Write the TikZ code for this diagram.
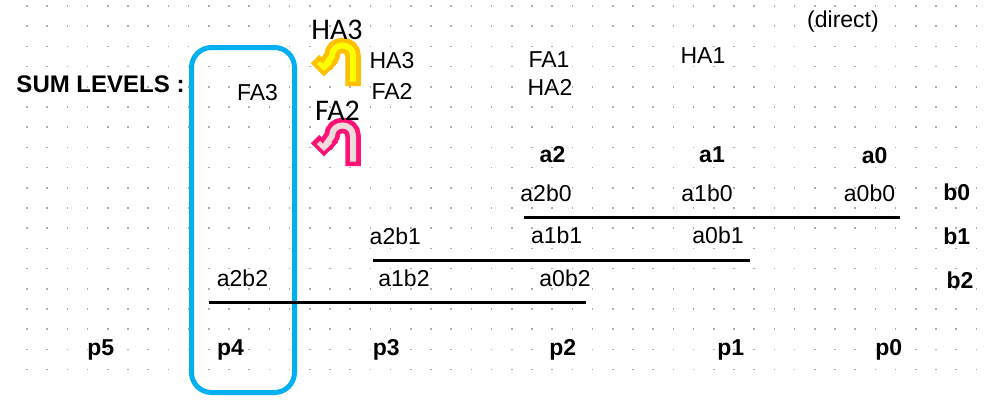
\documentclass[tikz,border=0pt]{standalone}
\usepackage{fontspec}
\setmainfont{Liberation Sans}
\newfontfamily\bigfont{Carlito}
\definecolor{dotc}{HTML}{ADADAD}
\definecolor{boxblue}{HTML}{00B0F0}
\definecolor{yelO}{HTML}{FFC000}
\definecolor{yelI}{HTML}{FFFF00}
\definecolor{pinkO}{HTML}{FF1475}
\definecolor{pinkI}{HTML}{F2DCDB}
\begin{document}
\begin{tikzpicture}[x=1pt,y=-1pt,
  t/.style={font=\fontsize{23}{27}\selectfont, anchor=base, inner sep=0pt},
  tb/.style={font=\fontsize{23}{27}\selectfont\bfseries, anchor=base, inner sep=0pt},
  big/.style={font=\bigfont\fontsize{30}{34}\selectfont, anchor=base, inner sep=0pt},
  rulestyle/.style={line width=2.6pt, black},
  outerarrow/.style={line width=15.5pt, line join=miter},
  innerarrow/.style={line width=6pt, line join=miter},
  outerhead/.style={line width=12pt, line join=miter},
  innerhead/.style={line width=4.5pt, line join=miter}]
\useasboundingbox (0,0) rectangle (984,400);
\fill[white] (0,0) rectangle (984,400);
% dot grid
\foreach \i in {0,...,47}{\foreach \j in {0,...,18}{%
  \fill[dotc] ({27+\i*20.2-0.75},{7.5+\j*20.2-0.75}) rectangle +(1.5,-1.5);}}
% blue box
\node[draw=boxblue, line width=5pt, rounded corners=20pt, minimum width=103pt,
  minimum height=345pt, inner sep=0pt] (box) at (243,220) {};
% U-turn arrows
\foreach \dy/\oc/\ic in {0/yelO/yelI, 80/pinkO/pinkI}{
  \draw[outerarrow, draw=\oc] (353,86+\dy) -- (353,56+\dy)
     .. controls (353,42+\dy) and (332,42+\dy) .. (332,56+\dy) -- (325,66+\dy);
  \draw[outerhead, draw=\oc] (315,59+\dy) -- (324,68+\dy) -- (334,58+\dy);
  \draw[innerarrow, draw=\ic] (353,81.5+\dy) -- (353,56+\dy)
     .. controls (353,42+\dy) and (332,42+\dy) .. (332,56+\dy) -- (325,66+\dy);
  \draw[innerhead, draw=\ic] (318.5,62.5+\dy) -- (324,68+\dy) -- (330.5,61.5+\dy);
}
% texts
\node[tb, font=\fontsize{24}{28}\selectfont\bfseries] (sum) at (100.5,92) {SUM LEVELS :};
\node[t] (fa3) at (257.5,100) {FA3};
\node[big] (ha3big) at (337,39) {HA3};
\node[big] (fa2big) at (337.5,120) {FA2};
\node[t] (ha3) at (392,68.3) {HA3};
\node[t] (fa2) at (392,99) {FA2};
\node[t] (fa1) at (549,67.3) {FA1};
\node[t] (ha2) at (550,95.7) {HA2};
\node[t] (ha1) at (703,63.3) {HA1};
\node[t] (direct) at (843,27) {(direct)};
\node[tb] (a2) at (552.5,162.7) {a2};
\node[tb] (a1) at (712,162.7) {a1};
\node[tb] (a0) at (874.7,163) {a0};
\node[t] (a2b0) at (546,201.7) {a2b0};
\node[t] (a1b0) at (707,201.7) {a1b0};
\node[t] (a0b0) at (869.5,201.7) {a0b0};
\node[tb] (b0) at (956.7,200) {b0};
\node[t] (a2b1) at (395.3,244) {a2b1};
\node[t] (a1b1) at (556.7,243) {a1b1};
\node[t] (a0b1) at (718,243) {a0b1};
\node[tb] (b1) at (956.7,244) {b1};
\node[t] (a2b2) at (242.5,286) {a2b2};
\node[t] (a1b2) at (404,286) {a1b2};
\node[t] (a0b2) at (565,286) {a0b2};
\node[tb] (b2) at (960,288) {b2};
\node[tb] (p5) at (100.7,355.7) {p5};
\node[tb] (p4) at (230.5,355.7) {p4};
\node[tb] (p3) at (386.3,355.7) {p3};
\node[tb] (p2) at (562.7,355.7) {p2};
\node[tb] (p1) at (730.8,355.7) {p1};
\node[tb] (p0) at (888.8,355.7) {p0};
% rules
\coordinate (r1s) at (524,217.5); \coordinate (r1e) at (900,217.5);
\coordinate (r2s) at (373,260.3); \coordinate (r2e) at (750,260.3);
\coordinate (r3s) at (209,302.3); \coordinate (r3e) at (586,302.3);
\draw[rulestyle] (r1s) -- (r1e);
\draw[rulestyle] (r2s) -- (r2e);
\draw[rulestyle] (r3s) -- (r3e);
\end{tikzpicture}
\end{document}
